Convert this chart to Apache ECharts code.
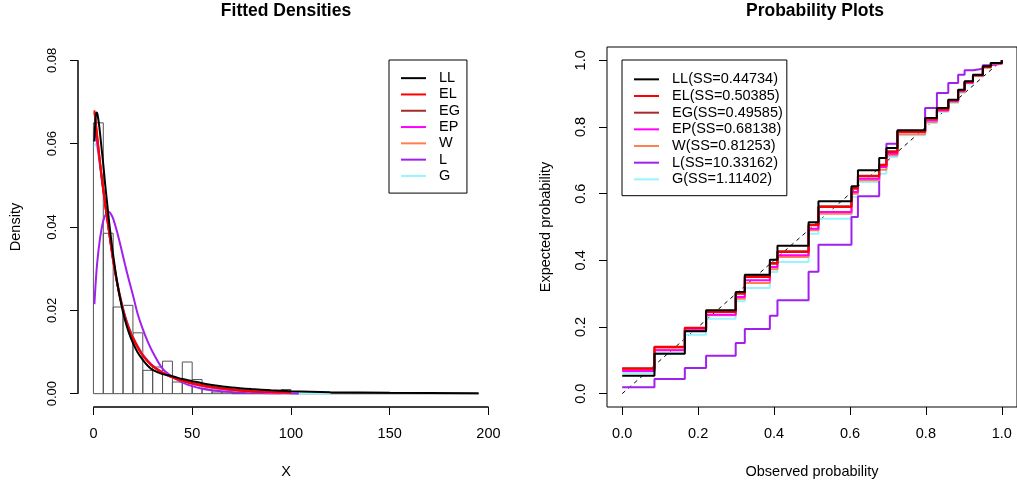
<!DOCTYPE html>
<html><head><meta charset="utf-8">
<script src="https://cdn.jsdelivr.net/npm/echarts@6/dist/echarts.min.js"></script>
<style>html,body{margin:0;padding:0;background:#fff}#c{width:1017px;height:484px}</style>
</head><body><div id="c"></div>
<script>
// ---------- Left panel: histogram + fitted densities ----------
const binLeft = [0,5,10,15,20,25,30,35,40,45,50,55,60,65,70,75,80,85,90,95,100,105,110,115,120,125,130,135,140,145,150,155,160,165,170,175,180,185,190];
const binWidth = 5;
const binDensity = [0.065,0.0385,0.0208,0.0212,0.0146,0.0056,0.0064,0.0078,0.0028,0.0076,0.0034,0.0012,0.0004,0.0004,0,0,0,0,0,0.001,0,0,0,0,0,0,0,0,0,0,0,0,0,0,0,0,0,0,0];

const densNames = ['LL','EL','EG','EP','W','L','G'];
const xsLL = [0.5,1,1.5,2,3,4,5,6,7,8,9,10,12,14,16,18,20,22.5,25,27.5,30,35,40,45,50,55,60,70,80,90,100,120,150,195];
const yLL  = [0.0605,0.0655,0.0675,0.0672,0.0640,0.0595,0.0550,0.0500,0.0455,0.0410,0.0370,0.0333,0.0268,0.0217,0.0177,0.0146,0.0122,0.0098,0.0081,0.0067,0.0057,0.0047,0.0042,0.0035,0.0030,0.0025,0.0021,0.0015,0.0011,0.0008,0.0006,0.00035,0.0002,0.0001];
const xsMid = [0.5,1,2,3,4,5,6,7,8,9,10,12,14,16,18,20,22.5,25,27.5,30,35,40,45,50,55,60,70,80,90,100];
const yEL = [0.0680,0.0660,0.0615,0.0570,0.0528,0.0490,0.0453,0.0420,0.0386,0.0352,0.0320,0.0265,0.0220,0.0183,0.0155,0.0133,0.0110,0.0091,0.0077,0.0066,0.0050,0.0039,0.0031,0.0025,0.0020,0.0016,0.0010,0.0006,0.0004,0.00025];
const yEG = [0.0675,0.0657,0.0613,0.0569,0.0528,0.0490,0.0453,0.0420,0.0386,0.0352,0.0320,0.0266,0.0221,0.0184,0.0156,0.0134,0.0111,0.0092,0.0078,0.0066,0.0050,0.0039,0.0031,0.0025,0.0020,0.0016,0.0010,0.0006,0.0004,0.00025];
const yEP = [0.0630,0.0625,0.0597,0.0562,0.0524,0.0488,0.0452,0.0419,0.0386,0.0352,0.0320,0.0266,0.0222,0.0185,0.0157,0.0135,0.0112,0.0093,0.0079,0.0067,0.0051,0.0039,0.0031,0.0024,0.0019,0.0015,0.0009,0.0006,0.0003,0.0002];
const yW  = [0.0645,0.0638,0.0605,0.0566,0.0526,0.0489,0.0452,0.0419,0.0386,0.0353,0.0322,0.0268,0.0224,0.0187,0.0158,0.0136,0.0113,0.0094,0.0079,0.0067,0.0051,0.0039,0.0030,0.0023,0.0018,0.0014,0.0008,0.0005,0.0003,0.00015];
const xsG = [0.5,1,2,3,4,5,6,7,8,9,10,12,14,16,18,20,22.5,25,27.5,30,35,40,45,50,55,60,70,80,90,100,120];
const yG  = [0.0595,0.0600,0.0585,0.0556,0.0522,0.0487,0.0452,0.0420,0.0387,0.0355,0.0325,0.0272,0.0227,0.0190,0.0161,0.0138,0.0115,0.0095,0.0080,0.0068,0.0051,0.0039,0.0030,0.0023,0.0018,0.0013,0.0008,0.0005,0.0003,0.00015,0.00005];
const xsL = [0.5,1,1.5,2,3,4,5,6,7,8,9,10,12,14,16,18,20,22.5,25,27.5,30,35,40,45,50,55,60,70,80,90,104];
const yL  = [0.0215,0.0255,0.0290,0.0318,0.0360,0.0392,0.0415,0.0428,0.0435,0.0436,0.0430,0.0420,0.0388,0.0350,0.0310,0.0272,0.0237,0.0190,0.0155,0.0125,0.0100,0.0060,0.0040,0.0027,0.0018,0.0012,0.0008,0.0004,0.0002,0.0001,0.00005];

const leftXTicks = [0,50,100,150,200];
const leftYTicks = [0,0.02,0.04,0.06,0.08];

// ---------- Right panel: probability plots ----------
const ppNames = ['LL(SS=0.44734)','EL(SS=0.50385)','EG(SS=0.49585)','EP(SS=0.68138)','W(SS=0.81253)','L(SS=10.33162)','G(SS=1.11402)'];
const obsProb = [0,0.085,0.165,0.221,0.299,0.323,0.389,0.409,0.491,0.517,0.604,0.621,0.677,0.696,0.725,0.798,0.829,0.859,0.885,0.902,0.924,0.950,0.971,1.0];
const expLL = [0.054,0.12,0.187,0.25,0.305,0.357,0.402,0.444,0.514,0.577,0.622,0.670,0.707,0.737,0.790,0.827,0.857,0.882,0.912,0.937,0.957,0.982,0.992,1.0];
const expEL = [0.075,0.14,0.198,0.245,0.30,0.35,0.39,0.425,0.505,0.56,0.615,0.652,0.685,0.725,0.786,0.825,0.853,0.880,0.910,0.935,0.955,0.980,0.991,1.0];
const expEG = [0.076,0.141,0.197,0.247,0.302,0.352,0.392,0.427,0.507,0.562,0.617,0.654,0.687,0.727,0.787,0.826,0.855,0.881,0.911,0.936,0.956,0.981,0.992,1.0];
const expEP = [0.068,0.13,0.19,0.237,0.29,0.34,0.38,0.415,0.495,0.545,0.605,0.645,0.68,0.72,0.785,0.82,0.85,0.878,0.908,0.933,0.955,0.98,0.991,1.0];
const expW  = [0.071,0.133,0.19,0.235,0.285,0.332,0.373,0.41,0.49,0.54,0.60,0.64,0.672,0.715,0.778,0.815,0.848,0.875,0.905,0.932,0.953,0.978,0.99,1.0];
const expL  = [0.019,0.044,0.077,0.114,0.152,0.194,0.234,0.28,0.366,0.447,0.53,0.592,0.68,0.75,0.785,0.857,0.902,0.932,0.957,0.97,0.975,0.985,0.99,1.0];
const expG  = [0.062,0.122,0.177,0.225,0.277,0.317,0.365,0.395,0.48,0.525,0.59,0.635,0.66,0.71,0.775,0.812,0.845,0.872,0.902,0.93,0.952,0.977,0.99,1.0];
const diagX = [0,1];
const probTicks = [0,0.2,0.4,0.6,0.8,1.0];

// ---------- styling / layout ----------
const colors = ['#000000','#FF0000','#A52A2A','#FF00FF','#FF7F50','#A020F0','#98F5FF'];
const FONT = 'Liberation Sans, Arial, sans-serif';
const FS = 14.5;
const G0 = { left: 78, top: 47, width: 416, height: 360 };
const G1 = { left: 607, top: 47, width: 416, height: 360 };

const zip = (xs, ys) => xs.map((x, i) => [x, ys[i]]);
const densX = [xsLL, xsMid, xsMid, xsMid, xsMid, xsL, xsG];
const densY = [yLL, yEL, yEG, yEP, yW, yL, yG];
const ppY = [expLL, expEL, expEG, expEP, expW, expL, expG];

const leftXMin = -7.8, leftXMax = 202.8, leftYMin = -0.0032, leftYMax = 0.0832;
// the two R-style axis segments of the left panel (first..last tick), in data units
const axisSegs = [
  [leftXTicks[0], leftYMin, leftXTicks[leftXTicks.length - 1], leftYMin],
  [leftXMin, leftYTicks[0], leftXMin, leftYTicks[leftYTicks.length - 1]]
];

const series = [];
series.push({
  type: 'custom', xAxisIndex: 0, yAxisIndex: 0, silent: true, z: 1,
  data: binLeft.map((b, i) => [b, b + binWidth, binDensity[i]]),
  renderItem: function (params, api) {
    const p0 = api.coord([api.value(0), 0]);
    const p1 = api.coord([api.value(1), api.value(2)]);
    return { type: 'rect', shape: { x: p0[0], y: p1[1], width: p1[0] - p0[0], height: p0[1] - p1[1] },
      style: { fill: 'none', stroke: '#555', lineWidth: 1 } };
  }
});
// axis segments drawn as custom shapes through the library's scale
series.push({
  type: 'custom', xAxisIndex: 0, yAxisIndex: 0, silent: true, z: 6, clip: false,
  data: axisSegs,
  renderItem: function (params, api) {
    const a = api.coord([api.value(0), api.value(1)]);
    const b = api.coord([api.value(2), api.value(3)]);
    return { type: 'line', shape: { x1: a[0], y1: a[1], x2: b[0], y2: b[1] },
      style: { stroke: '#222', lineWidth: 1.3, fill: null } };
  }
});
for (let k = densNames.length - 1; k >= 0; k--) {
  series.push({ type: 'line', name: densNames[k], xAxisIndex: 0, yAxisIndex: 0, data: zip(densX[k], densY[k]),
    showSymbol: false, symbol: 'none', smooth: 0.3, lineStyle: { width: 2, color: colors[k] }, itemStyle: { color: colors[k] }, z: 3 });
}
series.push({ type: 'line', name: 'diag', xAxisIndex: 1, yAxisIndex: 1, silent: true, symbol: 'none',
  data: zip(diagX, diagX), lineStyle: { color: '#000', width: 1, type: [4, 4] }, z: 2 });
for (let k = ppNames.length - 1; k >= 0; k--) {
  series.push({ type: 'line', name: ppNames[k], xAxisIndex: 1, yAxisIndex: 1, data: zip(obsProb, ppY[k]),
    step: 'end', showSymbol: false, symbol: 'none', lineStyle: { width: 2, color: colors[k] }, itemStyle: { color: colors[k] }, z: 3 });
}

const axisText = { color: '#000', fontFamily: FONT, fontSize: FS };
function xAx(grid, min, max, ticks, fmt, name) {
  return { type: 'value', gridIndex: grid, min: min, max: max, splitLine: { show: false },
    axisLine: { show: false, onZero: false },
    axisTick: { show: true, length: 8, customValues: ticks, lineStyle: { color: '#000' } },
    axisLabel: { customValues: ticks, formatter: fmt, margin: 19, color: '#000', fontFamily: FONT, fontSize: FS },
    name: name, nameLocation: 'middle', nameGap: 57, nameTextStyle: axisText };
}
function yAx(grid, min, max, ticks, fmt, name, fs, nameGap) {
  return { type: 'value', gridIndex: grid, min: min, max: max, splitLine: { show: false },
    axisLine: { show: false, onZero: false },
    axisTick: { show: true, length: 8, customValues: ticks, lineStyle: { color: '#000' } },
    axisLabel: { customValues: ticks, formatter: fmt, margin: 19, rotate: 90, color: '#000', fontFamily: FONT, fontSize: fs },
    name: name, nameLocation: 'middle', nameGap: nameGap, nameTextStyle: axisText };
}

const legendBase = {
  orient: 'vertical', icon: 'rect', itemWidth: 25, itemHeight: 2, itemGap: 0, selectedMode: false,
  borderColor: '#000', borderWidth: 1, backgroundColor: '#fff', z: 10
};

// same linear mapping as grid 0, used for a graphic fallback of the axis segments
const sx = v => G0.left + (v - leftXMin) / (leftXMax - leftXMin) * G0.width;
const sy = v => G0.top + G0.height - (v - leftYMin) / (leftYMax - leftYMin) * G0.height;

const graphics = [
  { type: 'text', x: 286, y: 11, style: { text: 'Fitted Densities', fill: '#000', font: 'bold 17.5px ' + FONT, align: 'center', verticalAlign: 'middle', textAlign: 'center', textVerticalAlign: 'middle' } },
  { type: 'text', x: 815, y: 11, style: { text: 'Probability Plots', fill: '#000', font: 'bold 17.5px ' + FONT, align: 'center', verticalAlign: 'middle', textAlign: 'center', textVerticalAlign: 'middle' } }
].concat(axisSegs.map(s => {
  const x1 = sx(s[0]), y1 = sy(s[1]), x2 = sx(s[2]), y2 = sy(s[3]);
  const horiz = Math.abs(y1 - y2) < 0.5;
  return { type: 'rect', silent: true, z: 100,
    shape: horiz ? { x: x1, y: y1 - 0.6, width: x2 - x1, height: 1.2 } : { x: x1 - 0.6, y: y2, width: 1.2, height: y1 - y2 },
    style: { fill: '#222' } };
}));

const chart = echarts.init(document.getElementById('c'), null, { renderer: 'canvas' });
chart.setOption({
  animation: false,
  backgroundColor: '#fff',
  grid: [
    Object.assign({ show: false }, G0),
    Object.assign({ show: true, borderColor: '#000', borderWidth: 1, backgroundColor: 'transparent' }, G1)
  ],
  xAxis: [
    xAx(0, leftXMin, leftXMax, leftXTicks, v => String(v), 'X'),
    xAx(1, -0.04, 1.04, probTicks, v => v.toFixed(1), 'Observed probability')
  ],
  yAxis: [
    yAx(0, leftYMin, leftYMax, leftYTicks, v => v.toFixed(2), 'Density', 13, 55),
    yAx(1, -0.04, 1.04, probTicks, v => v.toFixed(1), 'Expected probability', FS, 54)
  ],
  legend: [
    Object.assign({}, legendBase, { data: densNames, left: 389, top: 60, padding: [10, 7, 9, 12],
      textStyle: { color: '#000', fontFamily: FONT, fontSize: FS, lineHeight: 16.3, padding: [0, 0, 0, 8] } }),
    Object.assign({}, legendBase, { data: ppNames, left: 622, top: 60, padding: [11, 4, 8, 12],
      textStyle: { color: '#000', fontFamily: FONT, fontSize: FS, lineHeight: 16.67, padding: [0, 0, 0, 8] } })
  ],
  graphic: graphics,
  series: series
});
</script>
</body></html>
